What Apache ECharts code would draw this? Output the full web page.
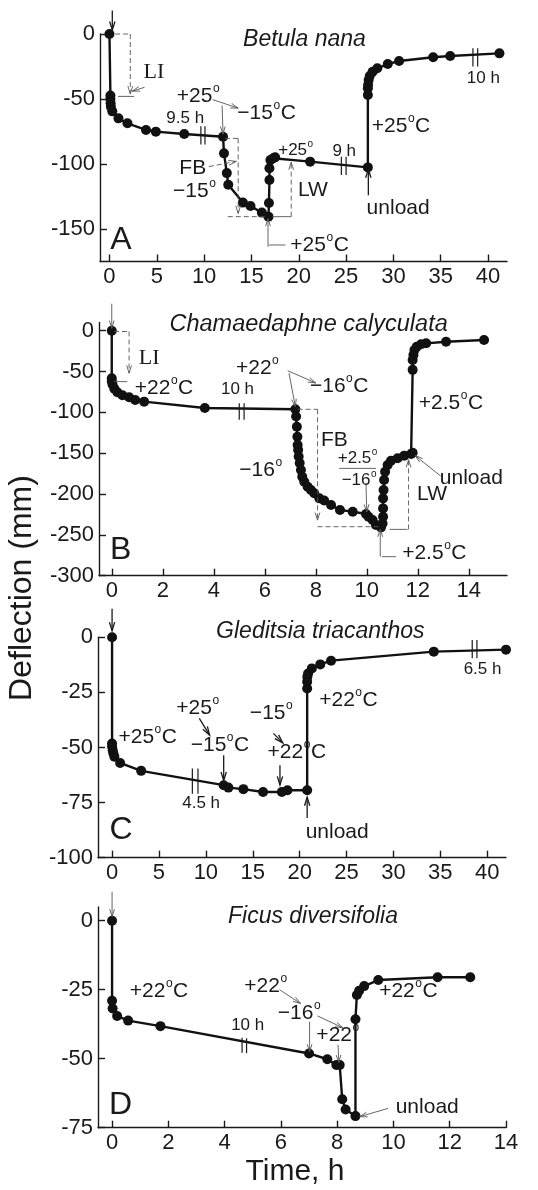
<!DOCTYPE html>
<html><head><meta charset="utf-8">
<script src="https://cdn.jsdelivr.net/npm/echarts@6/dist/echarts.min.js"></script>
<style>html,body{margin:0;padding:0;background:#fff}#c{width:538px;height:1190px}</style>
</head><body><div id="c"></div>
<script>
// ---- data: [time (h), deflection (mm)] ----
const betulaNana = [[0,0],[0.1,-47.4],[0.1,-50],[0.12,-53.3],[0.15,-56],[0.3,-59.5],[0.95,-64.9],[1.9,-68.7],[3.86,-73.8],[4.9,-75.1],[7.9,-76.9],[12.0,-79],[12.1,-91.8],[12.4,-107],[12.55,-116],[14.1,-129.7],[14.9,-132.3],[16.1,-137.4],[16.8,-140.5],[16.85,-130],[16.9,-112.3],[16.9,-103.3],[17.0,-97],[17.3,-95.6],[17.5,-94.9],[21.2,-98.2],[27.3,-102.6],[27.3,-46.9],[27.3,-41.8],[27.32,-39.2],[27.38,-35.4],[27.5,-32.3],[27.8,-29],[28.3,-26.4],[29.4,-23.1],[30.6,-20.8],[34.2,-17.9],[36.0,-16.9],[41.2,-14.9]];
const chamaedaphne = [[0,0],[0,-58.4],[0,-62],[0.03,-66],[0.1,-71],[0.22,-75.5],[0.42,-79],[0.68,-81.6],[0.92,-84.9],[1.27,-86.9],[3.65,-94.7],[7.2,-96.3],[7.23,-105],[7.26,-117.6],[7.28,-129.8],[7.29,-140],[7.31,-146],[7.33,-154],[7.37,-162],[7.42,-170.6],[7.47,-178.8],[7.55,-184.9],[7.68,-191],[7.81,-195],[7.94,-199],[8.14,-205.3],[8.33,-208],[8.6,-213.5],[8.95,-219.6],[9.45,-221.6],[9.97,-224.5],[10.07,-227.8],[10.23,-231.8],[10.36,-238],[10.56,-240.8],[10.62,-236],[10.64,-227.8],[10.64,-217.6],[10.64,-205.3],[10.66,-195],[10.68,-182.9],[10.72,-172.7],[10.82,-164.5],[10.95,-159.2],[11.21,-156.3],[11.47,-153],[11.74,-151],[11.8,-149.4],[11.8,-48],[11.8,-36],[11.83,-29.8],[11.87,-23.7],[11.96,-19.6],[12.13,-16.7],[12.33,-15.5],[13.11,-13.5],[14.6,-11.4]];
const gleditsia = [[0,0],[0,-48.2],[0,-49.7],[0.07,-51.2],[0.14,-52.7],[0.25,-54.2],[0.86,-57],[3.1,-60.6],[11.9,-67.1],[12.4,-68.2],[14,-68.9],[16.1,-70.2],[18.1,-70.2],[18.7,-69.4],[20.8,-69.4],[20.8,-23.2],[20.8,-20.2],[20.82,-17.9],[20.9,-16.4],[21.3,-14.1],[22.2,-12.3],[23.35,-10.6],[34.3,-6.5],[42,-5.6]];
const ficus = [[0,0],[0,-29],[0.02,-31.8],[0.18,-34.5],[0.57,-36.2],[1.72,-38.2],[7.0,-48.1],[7.65,-50.2],[7.97,-52.3],[8.09,-52.3],[8.18,-64.7],[8.3,-68.4],[8.65,-70.8],[8.65,-35.7],[8.7,-26.9],[8.78,-25.4],[8.96,-23.7],[9.46,-21.5],[11.57,-20.5],[12.73,-20.5]];
const seriesData = [betulaNana, chamaedaphne, gleditsia, ficus];
const titles = ['Betula nana','Chamaedaphne calyculata','Gleditsia triacanthos','Ficus diversifolia'];
const panelLetters = ['A','B','C','D'];
const xTicksA = [0,5,10,15,20,25,30,35,40];
const xTicksB = [0,2,4,6,8,10,12,14];
const xTicksC = [0,5,10,15,20,25,30,35,40];
const xTicksD = [0,2,4,6,8,10,12,14];
const yTicksA = [0,-50,-100,-150];
const yTicksB = [0,-50,-100,-150,-200,-250,-300];
const yTicksC = [0,-25,-50,-75,-100];
const yTicksD = [0,-25,-50,-75];
const xTicks = [xTicksA,xTicksB,xTicksC,xTicksD];
const yTicks = [yTicksA,yTicksB,yTicksC,yTicksD];
const xRange = [[-1,42],[-0.5,15.5],[-1.5,42],[-0.5,14]];
const yRange = [[-175,0],[-300,10],[-100,0],[-75,5]];

// ---- layout ----
const grids = [
  {left:100, right:31, top:34, height:227.5},
  {left:99, right:31, top:322.5, height:253.2},
  {left:98, right:32, top:637.3, height:220.4},
  {left:98, right:32, top:906.9, height:220.8}
];
const FONT = '"Liberation Sans", Arial, Helvetica, sans-serif';
const SERIF = '"Liberation Serif", "Times New Roman", serif';
const INK = '#1a1a1a';

const chart = echarts.init(document.getElementById('c'), null, {renderer:'canvas'});
const axisLineStyle = {color:INK, width:1.4};
chart.setOption({
  animation:false,
  backgroundColor:'#fff',
  grid: grids,
  xAxis: grids.map((g,i)=>({
    type:'value', gridIndex:i, min:xRange[i][0], max:xRange[i][1],
    axisLine:{onZero:false, lineStyle:axisLineStyle},
    axisTick:{inside:true, length:7, customValues:xTicks[i], lineStyle:axisLineStyle},
    axisLabel:{customValues:xTicks[i], fontSize:22, color:INK, fontFamily:FONT, margin:4},
    splitLine:{show:false}
  })),
  yAxis: grids.map((g,i)=>({
    type:'value', gridIndex:i, min:yRange[i][0], max:yRange[i][1],
    axisLine:{onZero:false, lineStyle:axisLineStyle},
    axisTick:{inside:true, length:7, customValues:yTicks[i], lineStyle:axisLineStyle},
    axisLabel:{customValues:yTicks[i], fontSize:22, color:INK, fontFamily:FONT, margin:5},
    splitLine:{show:false}
  })),
  series: seriesData.map((d,i)=>({
    type:'line', xAxisIndex:i, yAxisIndex:i, data:d, clip:false,
    symbol:'circle', symbolSize:10, showSymbol:true,
    lineStyle:{color:'#111', width:2.4}, itemStyle:{color:'#111'}
  }))
});

// ---- annotations (positions in data coordinates) ----
const ann = [
 { // A
  texts:[
   [titles[0],20.6,-4.6,23,'italic'],['LI',4.7,-29.7,22,'serif'],['+25°',9.4,-48.2,21],['−15°C',16.6,-61,21],
   ['9.5 h',8.0,-64.9,17],['FB',8.8,-103.3,21],['−15°',9.0,-121.3,21],['+25°',19.7,-89.2,17],['LW',21.5,-120,21],
   ['9 h',24.8,-90.5,17],['+25°C',30.8,-71.3,21],['unload',30.5,-134,21],['+25°C',22.2,-162.3,21],[panelLetters[0],1.2,-158.5,32],['10 h',39.5,-34.1,17]
  ],
  lines:[
   {p:[[0.6,0],[2.2,0]],dash:true},{p:[[0.9,-48],[2.6,-48]]},
   {p:[[9.66,-71],[9.66,-85]],k:1},{p:[[10.09,-71],[10.09,-85]],k:1},
   {p:[[12.2,-80.3],[13.6,-80.3]],dash:true},
   {p:[[12.5,-140.5],[16.5,-140.5]],dash:true},{p:[[17.2,-140.5],[19.2,-140.5]]},
   {p:[[24.5,-94.5],[24.5,-108.5]],k:1},{p:[[25,-94.5],[25,-108.5]],k:1},
   {p:[[16.85,-162.3],[18.6,-162.3]]},
   {p:[[38.4,-11],[38.4,-25]],k:1},{p:[[38.9,-11],[38.9,-25]],k:1}
  ],
  arrows:[
   {a:[0.3,18],b:[0.3,3],bold:true},{a:[2.2,0],b:[2.2,-46],dash:true},{a:[3.7,-41],b:[2.4,-44]},
   {a:[10.9,-50.5],b:[13.6,-57]},{a:[11.9,-55],b:[12.0,-77]},
   {a:[13.6,-80.3],b:[13.6,-138],dash:true},{a:[10.5,-102],b:[13.4,-98],dash:true},
   {a:[19.2,-140.5],b:[19.2,-98.5],dash:true},{a:[27.35,-124],b:[27.35,-104],bold:true},
   {a:[16.75,-163.6],b:[16.75,-142]}
  ]
 },
 { // B
  texts:[
   [titles[1],7.72,7,23.5,'italic'],['LI',1.47,-33.9,22,'serif'],['+22°C',2.05,-70.6,21],['10 h',4.93,-71.4,17],
   ['+22°',5.72,-46,21],['−16°C',8.92,-68.6,21],['FB',8.73,-133.9,21],['−16°',5.85,-170.6,21],['LW',12.56,-200,21],
   ['+2.5°',9.65,-156.3,17],['−16°',9.71,-182.9,17],['unload',14.1,-180.8,21],['+2.5°C',13.3,-89,21],['+2.5°C',12.65,-272.7,21],[panelLetters[1],0.35,-268.6,32]
  ],
  lines:[
   {p:[[0.09,-1],[0.68,-1]],dash:true},{p:[[0.09,-62.4],[0.61,-62.4]]},
   {p:[[5.0,-89],[5.0,-109]],k:1},{p:[[5.19,-89],[5.19,-109]],k:1},
   {p:[[7.29,-96.3],[8.07,-96.3]],dash:true},
   {p:[[8.07,-240],[10.5,-240]],dash:true},{p:[[10.9,-243.3],[11.6,-243.3]]},
   {p:[[8.92,-168.6],[10.36,-168.6]]},{p:[[10.6,-276.7],[11.15,-276.7]]}
  ],
  arrows:[
   {a:[0,33],b:[0,3]},{a:[0.68,-1],b:[0.68,-52],dash:true},
   {a:[6.9,-49],b:[8.0,-64]},{a:[6.95,-52],b:[7.2,-93]},
   {a:[8.07,-96.3],b:[8.07,-232],dash:true},{a:[11.64,-243.3],b:[11.64,-158],dash:true},
   {a:[9.97,-187],b:[10.0,-222]},{a:[12.9,-178],b:[11.9,-153]},{a:[10.53,-276.7],b:[10.53,-243]}
  ]
 },
 { // C
  texts:[
   [titles[2],22.2,2.6,23,'italic'],['+25°C',3.8,-45.2,21],['+25°',9.16,-32.3,21],['−15°C',11.5,-48.9,21],
   ['4.5 h',9.5,-75.5,17],['−15°',17,-34.5,21],['+22°C',19.7,-52,21],['+22°C',25.2,-28.5,21],['unload',24,-88.3,21],
   [panelLetters[2],0.96,-87.6,32],['6.5 h',39.5,-14.5,17]
  ],
  lines:[
   {p:[[8.56,-59.5],[8.56,-71]],k:1},{p:[[9.16,-59.5],[9.16,-71]],k:1},
   {p:[[38.4,-1.2],[38.4,-9.5]],k:1},{p:[[38.9,-1.2],[38.9,-9.5]],k:1}
  ],
  arrows:[
   {a:[0,13],b:[0,3],bold:true},{a:[9.3,-36.8],b:[10.4,-44.4],bold:true},{a:[11.9,-53.5],b:[11.9,-65],bold:true},
   {a:[17.2,-43.6],b:[18.2,-47.9],bold:true},{a:[17.9,-58],b:[17.9,-67],bold:true},{a:[20.8,-82],b:[20.8,-72.5],bold:true}
  ]
 },
 { // D
  texts:[
   [titles[3],7.14,1.4,23,'italic'],['+22°C',1.67,-25.7,21],['+22°',5.47,-23.9,21],['−16°',6.66,-33.6,21],
   ['+22°',8.03,-41.4,21],['10 h',4.82,-37.8,17],['+22°C',10.53,-25.7,21],['unload',11.2,-67.4,21],[panelLetters[3],0.3,-66.8,32]
  ],
  lines:[
   {p:[[4.62,-42.4],[4.62,-47.8]],k:1},{p:[[4.78,-42.6],[4.78,-48]],k:1}
  ],
  arrows:[
   {a:[0,10.5],b:[0,1.4]},{a:[5.95,-25],b:[6.7,-30]},{a:[7.02,-36.6],b:[7.02,-47.5]},
   {a:[7.3,-34.5],b:[8.2,-38.8]},{a:[8.03,-45],b:[8.06,-51.4]},{a:[9.81,-68],b:[8.8,-71]}
  ]
 }
];

const measureCtx = document.createElement('canvas').getContext('2d');
function textWidth(s, fs, family, style){
  measureCtx.font = (style||'normal') + ' ' + fs + 'px ' + family;
  return measureCtx.measureText(s).width;
}
function px(i, p){ return chart.convertToPixel({gridIndex:i}, p); }
const graphics = [];
function pushText(x, y, s, fs, family, style, align){
  graphics.push({type:'text', x:x, y:y, z:100, silent:true, style:{
    text:s, fontSize:fs, fontFamily:family, fontStyle:style||'normal',
    fill:INK, align:align||'center', verticalAlign:'middle'}});
}
function addText(i, t){
  const [s,x,y,fs,kind] = t;
  const P = px(i,[x,y]);
  const family = kind==='serif' ? SERIF : FONT;
  const style = kind==='italic' ? 'italic' : 'normal';
  if (s.indexOf('°') < 0) { pushText(P[0], P[1], s, fs, family, style); return; }
  // text with superscript "o" for degrees
  const parts = s.split('°');
  const sfs = Math.round(fs*0.58);
  const ws = textWidth('o', sfs, family) + 1;
  const w0 = textWidth(parts[0], fs, family), w1 = textWidth(parts[1]||'', fs, family);
  let x0 = P[0] - (w0 + ws + w1)/2;
  pushText(x0, P[1], parts[0], fs, family, style, 'left');
  pushText(x0 + w0 + 0.5, P[1] - fs*0.36, 'o', sfs, family, style, 'left');
  if (parts[1]) pushText(x0 + w0 + ws, P[1], parts[1], fs, family, style, 'left');
}
function addLine(i, l){
  const pts = l.p.map(p=>px(i,p));
  graphics.push({type:'polyline', z:90, silent:true, shape:{points:pts},
    style:{stroke: l.k? INK : '#555', lineWidth: l.k?1.2:0.9, lineDash: l.dash?[5,3]:null, fill:null}});
}
function addArrow(i, a){
  const p0 = px(i,a.a), p1 = px(i,a.b);
  const ang = Math.atan2(p1[1]-p0[1], p1[0]-p0[0]);
  const h = a.bold?9:8, w = 0.3;
  const l = [p1[0]-h*Math.cos(ang-w), p1[1]-h*Math.sin(ang-w)];
  const r = [p1[0]-h*Math.cos(ang+w), p1[1]-h*Math.sin(ang+w)];
  const col = a.bold?INK:'#555', lw = a.bold?1.3:0.9;
  graphics.push({type:'polyline', z:90, silent:true, shape:{points:[p0,p1]},
    style:{stroke:col, lineWidth:lw, lineDash:a.dash?[5,3]:null, fill:null}});
  graphics.push({type:'polyline', z:90, silent:true, shape:{points:[l,p1,r]},
    style:{stroke:col, lineWidth:lw, fill:null}});
}
ann.forEach((A,i)=>{
  A.lines.forEach(l=>addLine(i,l));
  A.arrows.forEach(a=>addArrow(i,a));
  A.texts.forEach(t=>addText(i,t));
});
graphics.push({type:'text', x:22, y:588, rotation:Math.PI/2, silent:true, style:{text:'Deflection (mm)', fontSize:32, fontFamily:FONT, fill:INK, align:'center', verticalAlign:'middle'}});
graphics.push({type:'text', x:295, y:1172, silent:true, style:{text:'Time, h', fontSize:30, fontFamily:FONT, fill:INK, align:'center', verticalAlign:'middle'}});
chart.setOption({graphic:{elements:graphics}});
</script>
</body></html>
